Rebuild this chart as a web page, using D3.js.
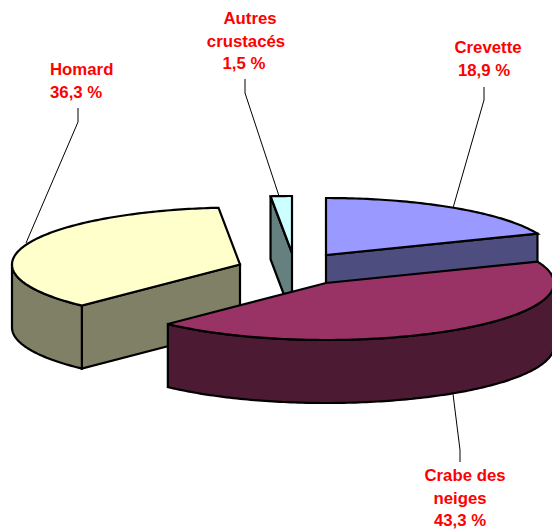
<!DOCTYPE html>
<html><head><meta charset="utf-8">
<script src="https://cdn.jsdelivr.net/npm/d3@7"></script>
<style>html,body{margin:0;padding:0;background:#fff;overflow:hidden}svg{display:block}
text{font-family:"Liberation Sans",Arial,sans-serif;font-weight:bold;font-size:16.8px;fill:#ff0000}</style>
</head><body><script>
const categories = ["Crevette", "Crabe des neiges", "Homard", "Autres crustacés"];
const shares = [18.9, 43.3, 36.3, 1.5];
const topColors = ["#9999ff", "#993366", "#ffffcc", "#ccffff"];
const sideColors = ["#4d4d80", "#4d1a33", "#808066", "#668080"];
const apexX = [326, 326, 240, 292];
const apexY = [255, 283, 264.5, 253];
const drawOrder = [3, 2, 0, 1];
const labelLines = [["Crevette", "18,9 %"], ["Crabe des", "neiges", "43,3 %"], ["Homard", "36,3 %"], ["Autres", "crustacés", "1,5 %"]];
const labelXs = [[488, 484], [465, 460, 460], [50, 50], [250, 246, 244]];
const labelY = [53, 481, 75, 24];
const leaderLines = [
  [[484, 87], [484, 100], [453, 208]],
  [[453, 394], [460, 450], [460, 462]],
  [[78, 108], [78, 122], [26, 243]],
  [[245, 79], [245, 93], [279, 196]]
];
const W = 552, H = 529, RX = 228, RY = 57, DEPTH = 63;

const svg = d3.select("body").append("svg").attr("width", W).attr("height", H);
const arcs = d3.pie().sort(null).value(d => d)(shares);
const line = d3.line();
const pt = (i, a, dz = 0) => [apexX[i] + RX * Math.sin(a), apexY[i] - RY * Math.cos(a) + dz];
const arcPts = (i, a0, a1, dz = 0) => {
  const n = Math.max(2, Math.ceil((a1 - a0) * 60));
  return d3.range(n + 1).map(k => pt(i, a0 + (a1 - a0) * k / n, dz));
};
const draw = (pts, fill) => svg.append("path").attr("d", line(pts) + "Z")
  .attr("fill", fill).attr("stroke", "#000").attr("stroke-width", 2.2).attr("stroke-linejoin", "miter");

// leader lines sit behind the slices
leaderLines.forEach(p => svg.append("path").attr("d", line(p)).attr("fill", "none")
  .attr("stroke", "#000").attr("stroke-width", 1));

drawOrder.forEach(i => {
  const { startAngle: a0, endAngle: a1 } = arcs[i];
  const apex = [apexX[i], apexY[i]], low = [apexX[i], apexY[i] + DEPTH];
  const face = a => draw([apex, pt(i, a), pt(i, a, DEPTH), low], sideColors[i]);
  if (Math.sin(a0) < -1e-6) face(a0);
  if (Math.sin(a1) > 1e-6) face(a1);
  const w0 = Math.max(a0, Math.PI / 2), w1 = Math.min(a1, 3 * Math.PI / 2);
  if (w1 > w0) draw(arcPts(i, w0, w1).concat(arcPts(i, w0, w1, DEPTH).reverse()), sideColors[i]);
  draw([apex].concat(arcPts(i, a0, a1)), topColors[i]);
});

labelLines.forEach((ls, i) => {
  const t = svg.append("text").attr("text-anchor", i === 2 ? "start" : "middle");
  ls.forEach((s, k) => t.append("tspan").attr("x", labelXs[i][k]).attr("y", labelY[i] + k * 22.7).text(s));
});
</script></body></html>
